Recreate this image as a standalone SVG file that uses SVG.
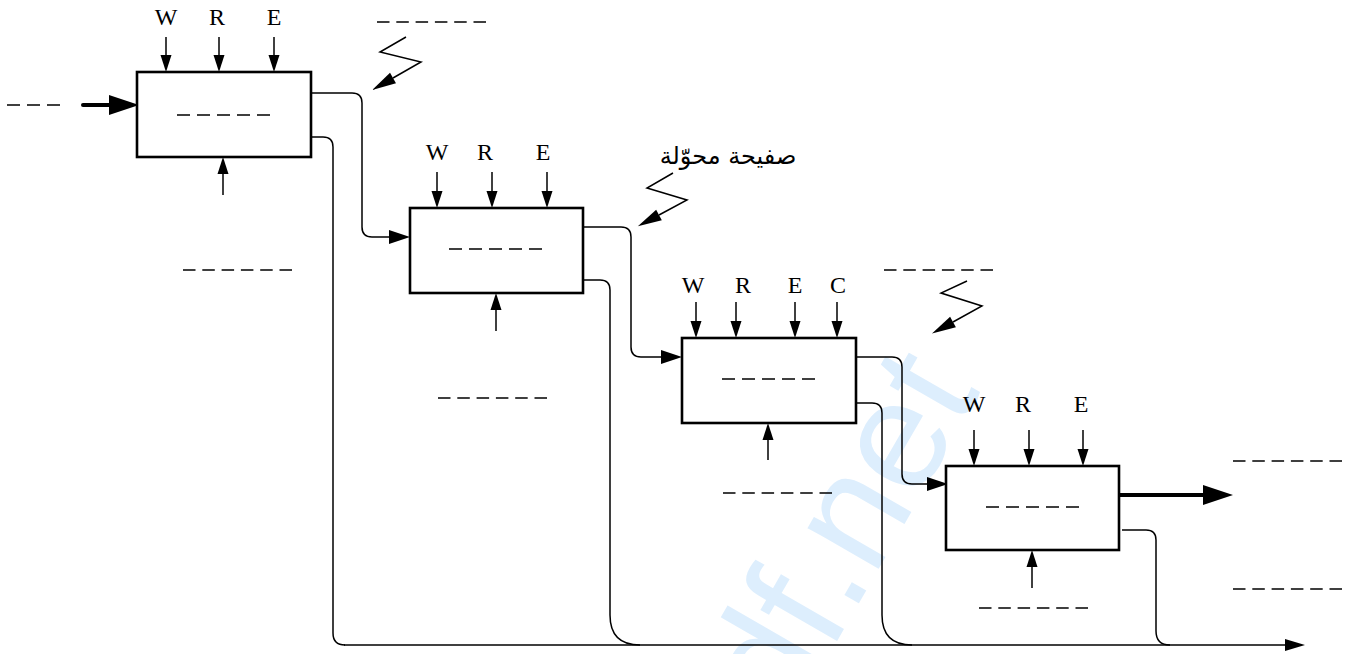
<svg xmlns="http://www.w3.org/2000/svg" width="1349" height="654" viewBox="0 0 1349 654">
<style>
.box{fill:#fff;stroke:#000;stroke-width:2.6}
.lbl{font-family:"Liberation Serif","Times New Roman",serif;font-size:24px;fill:#000;text-anchor:middle}
.ar{stroke:#000;stroke-width:1.5;fill:none}
.con{stroke:#000;stroke-width:1.5;fill:none}
.thick{stroke:#000;stroke-width:4;fill:none}
.d5{stroke:#000;stroke-width:1.6;stroke-dasharray:13 7}
.d6{stroke:#000;stroke-width:1.6;stroke-dasharray:12.5 6.8}
.wm{font-family:"Liberation Sans",Arial,sans-serif;font-size:155px;fill:#ddeefd}
</style>
<defs>
<marker id="aS" markerUnits="userSpaceOnUse" orient="auto" markerWidth="17" markerHeight="11" refX="0" refY="5.5" overflow="visible"><path d="M0,0 L17,5.5 L0,11 z" fill="#000"/></marker>
<marker id="aC" markerUnits="userSpaceOnUse" orient="auto" markerWidth="21" markerHeight="14" refX="0" refY="7" overflow="visible"><path d="M0,0 L21,7 L0,14 z" fill="#000"/></marker>
<marker id="aZ" markerUnits="userSpaceOnUse" orient="auto" markerWidth="24" markerHeight="12" refX="0" refY="6" overflow="visible"><path d="M0,0 L24,6 L0,12 z" fill="#000"/></marker>
<marker id="aT" markerUnits="userSpaceOnUse" orient="auto" markerWidth="30" markerHeight="20" refX="0" refY="10" overflow="visible"><path d="M0,0 L30,10 L0,20 z" fill="#000"/></marker>
<marker id="aE" markerUnits="userSpaceOnUse" orient="auto" markerWidth="20" markerHeight="12" refX="0" refY="6" overflow="visible"><path d="M0,0 L20,6 L0,12 z" fill="#000"/></marker>
</defs>

<text class="wm" transform="translate(744,802) rotate(-60)">pdf.net</text>

<g id="connectors">
<path class="con" d="M307,93 H352 Q362,93 362,103 V227 Q362,237 372,237 H389" marker-end="url(#aC)"/>
<path class="con" d="M311,137 H323 Q333,137 333,147 V633 Q333,645 345,645"/>
<path class="con" d="M583,227 H621 Q631,227 631,237 V347 Q631,357 641,357 H661" marker-end="url(#aC)"/>
<path class="con" d="M583,280 H600 Q610,280 610,290 V615 Q610,645 640,645"/>
<path class="con" d="M856,357 H892 Q902,357 902,367 V474 Q902,484 912,484 H927" marker-end="url(#aC)"/>
<path class="con" d="M856,403 H872 Q882,403 882,413 V615 Q882,645 912,645"/>
<path class="con" d="M1122,530 H1146 Q1156,530 1156,540 V631 Q1156,645 1170,645"/>
<path class="con" d="M344,645 H1285" marker-end="url(#aE)"/>
<path class="thick" d="M83,105 H109" stroke-linecap="round" marker-end="url(#aT)"/>
<path class="thick" d="M1119,495 H1203" marker-end="url(#aT)"/>
<path class="con" d="M406,37 L380,52 L421,62 L393,78" marker-end="url(#aZ)"/>
<path class="con" d="M673,173 L647,188 L687,200 L659,215" marker-end="url(#aZ)"/>
<path class="con" d="M967,281 L941,293 L982,306 L953,322" marker-end="url(#aZ)"/>
</g>

<g id="placeholders">
<line class="d5" x1="7" y1="105" x2="60" y2="105"/>
<line class="d6" x1="377" y1="22" x2="486" y2="22"/>
<line class="d6" x1="183" y1="270" x2="292" y2="270"/>
<line class="d6" x1="438" y1="398" x2="547" y2="398"/>
<line class="d6" x1="884" y1="270" x2="993" y2="270"/>
<line class="d6" x1="723" y1="493" x2="832" y2="493"/>
<line class="d6" x1="979" y1="608" x2="1088" y2="608"/>
<line class="d6" x1="1233" y1="461" x2="1342" y2="461"/>
<line class="d6" x1="1233" y1="589" x2="1342" y2="589"/>
<text x="728" y="164" font-family="'DejaVu Sans','Noto Sans',sans-serif" font-size="24" text-anchor="middle" direction="rtl">صفيحة محوّلة</text>
</g>

<g id="node1">
<rect class="box" x="137" y="72" width="174" height="85"/>
<line class="d5" x1="177" y1="115" x2="270" y2="115"/>
<text class="lbl" x="166" y="25">W</text><text class="lbl" x="217" y="25">R</text><text class="lbl" x="274" y="25">E</text>
<line class="ar" x1="166" y1="37" x2="166" y2="55" marker-end="url(#aS)"/>
<line class="ar" x1="219" y1="37" x2="219" y2="55" marker-end="url(#aS)"/>
<line class="ar" x1="274" y1="37" x2="274" y2="55" marker-end="url(#aS)"/>
<line class="ar" x1="223" y1="195" x2="223" y2="174" marker-end="url(#aS)"/>
</g>

<g id="node2">
<rect class="box" x="410" y="208" width="173" height="85"/>
<line class="d5" x1="449" y1="249" x2="542" y2="249"/>
<text class="lbl" x="437" y="160">W</text><text class="lbl" x="485" y="160">R</text><text class="lbl" x="543" y="160">E</text>
<line class="ar" x1="437" y1="172" x2="437" y2="191" marker-end="url(#aS)"/>
<line class="ar" x1="492" y1="172" x2="492" y2="191" marker-end="url(#aS)"/>
<line class="ar" x1="547" y1="172" x2="547" y2="191" marker-end="url(#aS)"/>
<line class="ar" x1="496" y1="331" x2="496" y2="310" marker-end="url(#aS)"/>
</g>

<g id="node3">
<rect class="box" x="682" y="338" width="174" height="85"/>
<line class="d5" x1="722" y1="379" x2="815" y2="379"/>
<text class="lbl" x="693" y="293">W</text><text class="lbl" x="743" y="293">R</text><text class="lbl" x="795" y="293">E</text><text class="lbl" x="838" y="293">C</text>
<line class="ar" x1="696" y1="302" x2="696" y2="321" marker-end="url(#aS)"/>
<line class="ar" x1="736" y1="302" x2="736" y2="321" marker-end="url(#aS)"/>
<line class="ar" x1="795" y1="302" x2="795" y2="321" marker-end="url(#aS)"/>
<line class="ar" x1="837" y1="302" x2="837" y2="321" marker-end="url(#aS)"/>
<line class="ar" x1="768" y1="460" x2="768" y2="440" marker-end="url(#aS)"/>
</g>

<g id="node4">
<rect class="box" x="946" y="466" width="173" height="84"/>
<line class="d5" x1="986" y1="507" x2="1079" y2="507"/>
<text class="lbl" x="974" y="412">W</text><text class="lbl" x="1023" y="412">R</text><text class="lbl" x="1081" y="412">E</text>
<line class="ar" x1="974" y1="430" x2="974" y2="449" marker-end="url(#aS)"/>
<line class="ar" x1="1029" y1="430" x2="1029" y2="449" marker-end="url(#aS)"/>
<line class="ar" x1="1083" y1="430" x2="1083" y2="449" marker-end="url(#aS)"/>
<line class="ar" x1="1032" y1="588" x2="1032" y2="567" marker-end="url(#aS)"/>
</g>
</svg>
